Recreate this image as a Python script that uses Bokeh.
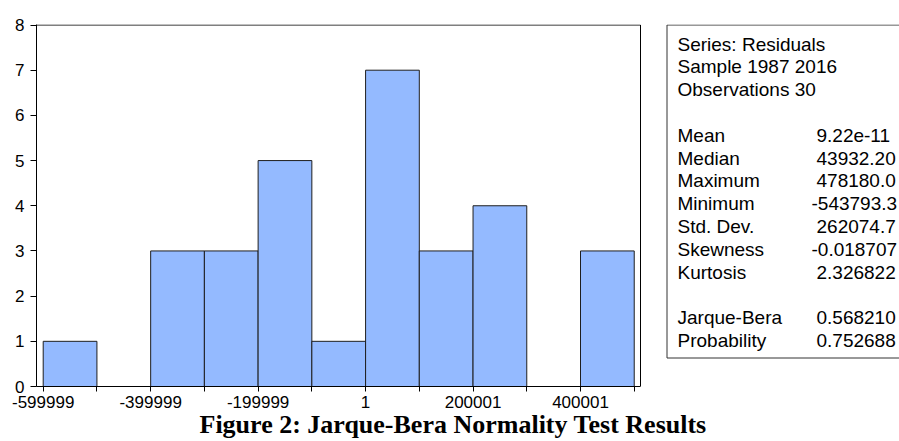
from bokeh.plotting import figure
from bokeh.models import Range1d, FixedTicker, NumeralTickFormatter, Title
from bokeh.core.properties import value
from bokeh.embed import file_html
from bokeh.resources import INLINE

# ---------------- data ----------------
bin_edges = [-599999, -499999, -399999, -299999, -199999, -99999,
             1, 100001, 200001, 300001, 400001, 500001]
counts = [1, 0, 3, 3, 5, 1, 7, 3, 4, 0, 3]

x_tick_values = [-599999, -399999, -199999, 1, 200001, 400001]
x_tick_labels = ["-599999", "-399999", "-199999", "1", "200001", "400001"]
x_minor_ticks = [-499999, -299999, -99999, 100001, 300001, 500001]
y_tick_values = [0, 1, 2, 3, 4, 5, 6, 7, 8]

header_lines = ["Series: Residuals", "Sample 1987 2016", "Observations 30", ""]
stat_names = ["Mean", "Median", "Maximum", "Minimum", "Std. Dev.",
              "Skewness", "Kurtosis", "", "Jarque-Bera", "Probability"]
stat_values = ["9.22e-11", "43932.20", "478180.0", "-543793.3", "262074.7",
               "-0.018707", "2.326822", "", "0.568210", "0.752688"]
caption = "Figure 2: Jarque-Bera Normality Test Results"

# ---------------- geometry (pixels) ----------------
W, H = 899, 441
FL, FR, FT, FB = 36, 899, 24, 386        # frame edges in pixels
PLOT_R = 640                              # right edge of the histogram area
X_LO, X_HI = -612470, 511670              # histogram x extent (data)
Y_MAX = 8
SX = (PLOT_R - FL) / (X_HI - X_LO)        # px per data unit
X_END = X_LO + (FR - FL) / SX
Y_TOP = Y_MAX * (FB - FT) / (FB - (FT + 0.5))
FONT = "Liberation Sans"


def px2x(px):
    return X_LO + (px - FL) / SX


def py2y(py):
    return (FB - py) * Y_TOP / (FB - FT)


p = figure(width=W, height=H, output_backend="svg", toolbar_location=None,
           title=None,
           x_range=Range1d(X_LO, X_END), y_range=Range1d(0, Y_TOP),
           min_border_left=FL, min_border_top=FT, min_border_right=W - FR,
           min_border_bottom=H - FB)
p.background_fill_color = "white"
p.border_fill_color = "white"
p.outline_line_color = None
p.grid.visible = False

# histogram bars
lefts, rights, tops = [], [], []
for i, c in enumerate(counts):
    if c > 0:
        lefts.append(bin_edges[i])
        rights.append(bin_edges[i + 1])
        tops.append(c)
p.quad(left=lefts, right=rights, top=tops, bottom=0,
       fill_color="#94BAFF", line_color="#1e1e1e", line_width=1)

# top and right edges of the plot area
p.multi_line(xs=[[X_LO, X_HI], [X_HI, X_HI]], ys=[[Y_MAX, Y_MAX], [0, Y_MAX]],
             line_color="black", line_width=1)

xa = p.xaxis[0]
xa.bounds = (X_LO, X_HI)
xa.ticker = FixedTicker(ticks=x_tick_values, minor_ticks=x_minor_ticks)
xa.formatter = NumeralTickFormatter(format="0")
xa.major_label_overrides = {v: l for v, l in zip(x_tick_values, x_tick_labels)}
xa.major_tick_out = 5
xa.major_tick_in = 0
xa.minor_tick_out = 5
xa.minor_tick_in = 0
xa.major_label_standoff = 4

ya = p.yaxis[0]
ya.ticker = FixedTicker(ticks=y_tick_values, minor_ticks=[])
ya.major_tick_out = 6
ya.major_tick_in = 0
ya.minor_tick_out = 0
ya.minor_tick_in = 0
ya.major_label_standoff = 6

for ax in (xa, ya):
    ax.axis_line_color = "black"
    ax.major_tick_line_color = "black"
    ax.minor_tick_line_color = "black"
    ax.major_label_text_font = FONT
    ax.major_label_text_font_size = "17px"
    ax.major_label_text_color = "black"

# ---------------- statistics box ----------------
p.quad(left=[px2x(666.5)], right=[px2x(930)], top=[py2y(24.5)], bottom=[py2y(357.5)],
       fill_color=None, line_color="#333333", line_width=1)

row0_y = 43.5
row_step = 22.8
names_x = 677
values_x = 816
minus_w = 5

rows_left = header_lines + stat_names
rows_right = [""] * len(header_lines) + stat_values
nx, ny, nt = [], [], []
vx, vy, vt = [], [], []
for i, (nm, val) in enumerate(zip(rows_left, rows_right)):
    yy = py2y(row0_y + i * row_step)
    if nm:
        nx.append(px2x(names_x)); ny.append(yy); nt.append(nm)
    if val:
        vx.append(px2x(values_x - (minus_w if val.startswith("-") else 0)))
        vy.append(yy); vt.append(val)

p.text(x=nx, y=ny, text=nt, text_font=value(FONT), text_font_size="19px",
       text_color="black", text_baseline="middle", text_align="left")
p.text(x=vx, y=vy, text=vt, text_font=value(FONT), text_font_size="19px",
       text_color="black", text_baseline="middle", text_align="left")

# ---------------- caption ----------------
cap = Title(text=caption, align="left", offset=199 - FL, standoff=-6,
            text_font="Liberation Serif", text_font_style="bold",
            text_font_size="26px", text_color="black")
p.add_layout(cap, "below")

open("out.html", "w").write(file_html(p, INLINE))
